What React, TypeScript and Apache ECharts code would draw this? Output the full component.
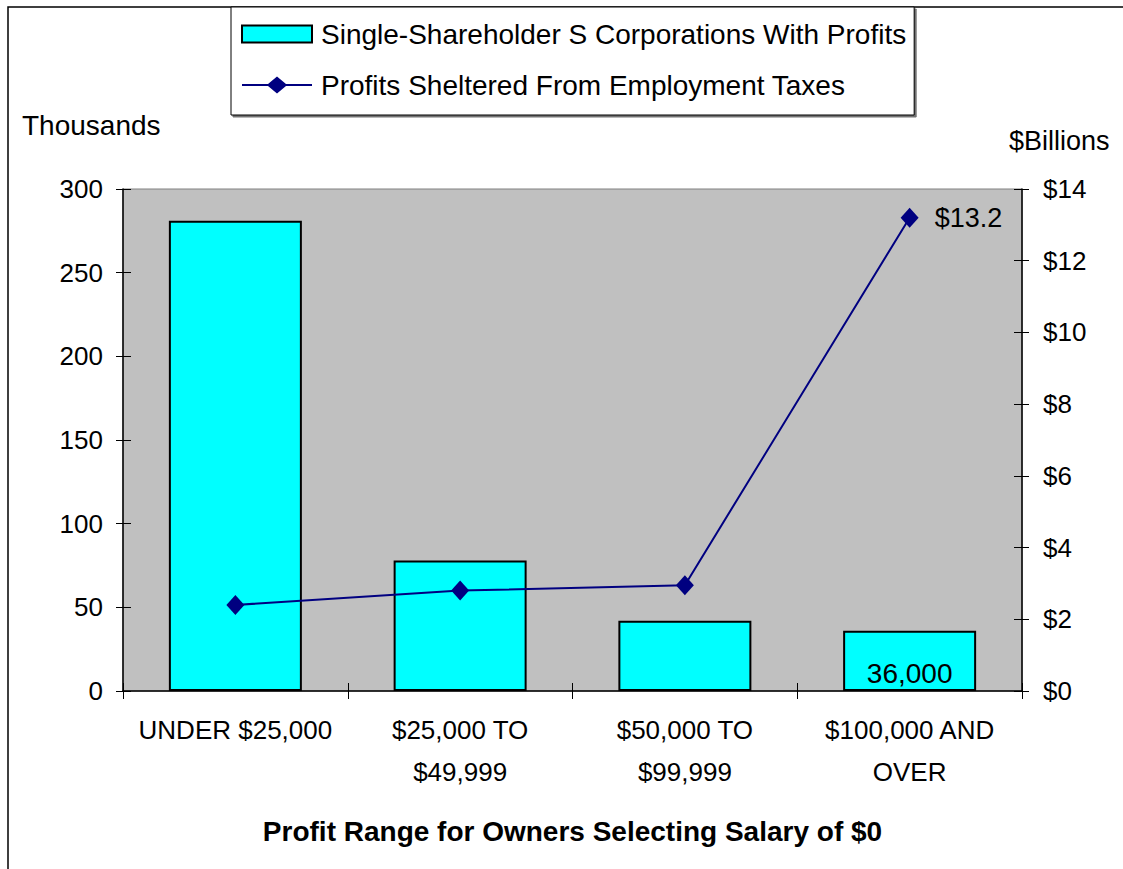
import React, { useEffect, useRef } from "react";
import * as echarts from "echarts";

const categories = [
  "UNDER $25,000",
  "$25,000 TO\n$49,999",
  "$50,000 TO\n$99,999",
  "$100,000 AND\nOVER",
];
// Single-shareholder S corporations with profits (thousands)
const corpCounts = [281, 78, 42, 36];
// Profits sheltered from employment taxes ($ billions)
const shelteredProfits = [2.4, 2.8, 2.95, 13.2];

const seriesNames = [
  "Single-Shareholder S Corporations With Profits",
  "Profits Sheltered From Employment Taxes",
];

const FONT = "'Liberation Sans', Arial, sans-serif";
const LINE_ICON =
  "path://M0,7.5L26,7.5L35,0L44,7.5L70,7.5L70,9.5L44,9.5L35,17L26,9.5L0,9.5Z";

export default function App() {
  const ref = useRef<HTMLDivElement>(null);

  useEffect(() => {
    if (!ref.current) return;
    const chart = echarts.init(ref.current, null, { renderer: "svg" });
    const last = corpCounts.length - 1;
    const lastLine = shelteredProfits.length - 1;

    const yCommon = {
      type: "value" as const,
      splitLine: { show: false },
    };

    chart.setOption({
      animation: false,
      backgroundColor: "#ffffff",
      textStyle: { fontFamily: FONT, color: "#000" },
      grid: {
        left: 123,
        right: 101,
        top: 189,
        bottom: 178,
        show: true,
        backgroundColor: "#C0C0C0",
        borderColor: "#808080",
        borderWidth: 1,
      },
      legend: {
        orient: "vertical",
        left: 231,
        top: 7,
        padding: [13, 8, 16, 10],
        itemGap: 23,
        itemWidth: 70,
        itemHeight: 17,
        backgroundColor: "#ffffff",
        borderColor: "#000",
        borderWidth: 1,
        borderRadius: 0,
        shadowColor: "rgba(0,0,0,0.55)",
        shadowOffsetX: 2,
        shadowOffsetY: 2,
        shadowBlur: 0,
        textStyle: {
          fontFamily: FONT,
          fontSize: 28,
          color: "#000",
          padding: [0, 0, 0, 4],
        },
        data: [
          { name: seriesNames[0], icon: "rect" },
          { name: seriesNames[1], icon: LINE_ICON },
        ],
      },
      xAxis: [
        {
          type: "category",
          data: categories,
          boundaryGap: true,
          axisLine: { show: true, lineStyle: { color: "#000", width: 1.5 } },
          axisTick: { show: true, length: 8, lineStyle: { color: "#000" } },
          axisLabel: {
            fontFamily: FONT,
            fontSize: 26,
            color: "#000",
            margin: 18,
            lineHeight: 42,
            interval: 0,
          },
          name: "Profit Range for Owners Selecting Salary of $0",
          nameLocation: "middle",
          nameGap: 126,
          nameTextStyle: {
            fontFamily: FONT,
            fontSize: 28,
            fontWeight: "bold",
            color: "#000",
          },
        },
        {
          type: "category",
          data: categories,
          position: "bottom",
          boundaryGap: true,
          axisLine: { show: false },
          axisTick: { show: true, inside: true, length: 8, lineStyle: { color: "#000" } },
          axisLabel: { show: false },
        },
      ],
      yAxis: [
        {
          ...yCommon,
          min: 0,
          max: 300,
          interval: 50,
          position: "left",
          axisLine: { show: true, lineStyle: { color: "#000", width: 1.5 } },
          axisTick: { show: true, length: 7, lineStyle: { color: "#000" } },
          axisLabel: { fontFamily: FONT, fontSize: 26, color: "#000", margin: 20 },
        },
        {
          ...yCommon,
          min: 0,
          max: 14,
          interval: 2,
          position: "right",
          axisLine: { show: true, lineStyle: { color: "#000", width: 1.5 } },
          axisTick: { show: true, length: 7, lineStyle: { color: "#000" } },
          axisLabel: {
            fontFamily: FONT,
            fontSize: 26,
            color: "#000",
            margin: 21,
            formatter: (v: number) => "$" + v,
          },
        },
        {
          ...yCommon,
          min: 0,
          max: 300,
          interval: 50,
          position: "left",
          offset: 0,
          axisLine: { show: false },
          axisTick: { show: true, inside: true, length: 8, lineStyle: { color: "#000" } },
          axisLabel: { show: false },
        },
        {
          ...yCommon,
          min: 0,
          max: 14,
          interval: 2,
          position: "right",
          offset: 0,
          axisLine: { show: false },
          axisTick: { show: true, inside: true, length: 8, lineStyle: { color: "#000" } },
          axisLabel: { show: false },
        },
      ],
      graphic: [
        {
          type: "rect",
          silent: true,
          z: -10,
          shape: { x: 8, y: 7, width: 1140, height: 900 },
          style: { fill: "none", stroke: "#000", lineWidth: 1.5 },
        },
        {
          type: "text",
          left: 22,
          top: 111,
          style: {
            text: "Thousands",
            fontFamily: FONT,
            fontSize: 28,
            fill: "#000",
          },
        },
        {
          type: "text",
          left: 1009,
          top: 127,
          style: {
            text: "$Billions",
            fontFamily: FONT,
            fontSize: 27,
            fill: "#000",
          },
        },
      ],
      series: [
        {
          name: seriesNames[0],
          type: "bar",
          xAxisIndex: 0,
          yAxisIndex: 0,
          barWidth: 133,
          itemStyle: { color: "#00FFFF", borderColor: "#000", borderWidth: 2 },
          data: corpCounts.map((v, i) =>
            i === last
              ? {
                  value: v,
                  label: {
                    show: true,
                    position: "insideBottom",
                    distance: 4,
                    fontFamily: FONT,
                    fontSize: 28,
                    color: "#000",
                    formatter: (p: any) =>
                      (p.value * 1000).toLocaleString("en-US"),
                  },
                }
              : v
          ),
        },
        {
          name: seriesNames[1],
          type: "line",
          xAxisIndex: 0,
          yAxisIndex: 1,
          symbol: "diamond",
          symbolSize: [18, 20],
          lineStyle: { color: "#000080", width: 2 },
          itemStyle: { color: "#000080" },
          z: 5,
          data: shelteredProfits.map((v, i) =>
            i === lastLine
              ? {
                  value: v,
                  label: {
                    show: true,
                    position: "right",
                    distance: 16,
                    fontFamily: FONT,
                    fontSize: 27,
                    color: "#000",
                    formatter: (p: any) => "$" + p.value.toFixed(1),
                  },
                }
              : v
          ),
        },
      ],
    });

    return () => chart.dispose();
  }, []);

  return (
    <div
      ref={ref}
      style={{ position: "fixed", left: 0, top: 0, width: 1123, height: 869 }}
    />
  );
}
